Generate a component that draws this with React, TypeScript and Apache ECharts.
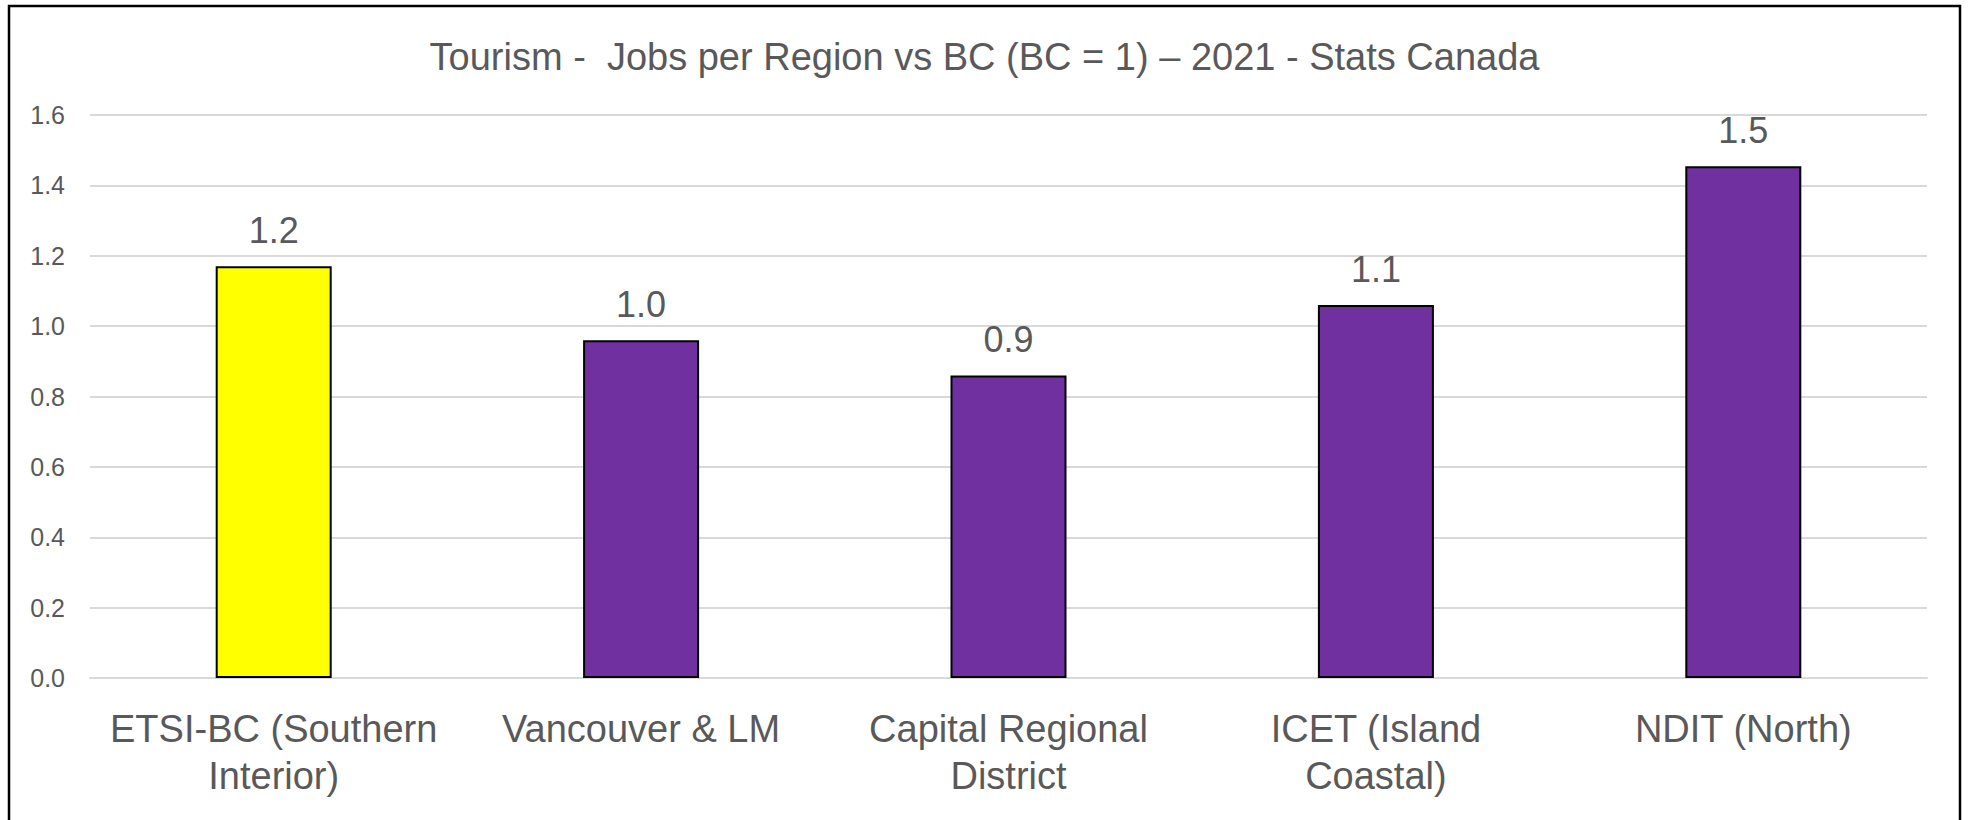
import React, { useEffect, useRef } from "react";
import * as echarts from "echarts";

const titleText = "Tourism -  Jobs per Region vs BC (BC = 1) \u2013 2021 - Stats Canada";
const categories = [
  "ETSI-BC (Southern\nInterior)",
  "Vancouver & LM",
  "Capital Regional\nDistrict",
  "ICET (Island\nCoastal)",
  "NDIT (North)",
];
const values = [1.17, 0.96, 0.86, 1.06, 1.454];
const barColors = ["#FFFF00", "#7030A0", "#7030A0", "#7030A0", "#7030A0"];
const yTicks = { min: 0, max: 1.6, interval: 0.2 };

const FONT = "'Liberation Sans', Arial, sans-serif";
const TEXT = "#595959";

export default function App() {
  const ref = useRef<HTMLDivElement>(null);
  useEffect(() => {
    if (!ref.current) return;
    const chart = echarts.init(ref.current, undefined, { renderer: "svg" });
    chart.setOption({
      animation: false,
      backgroundColor: "#ffffff",
      textStyle: { fontFamily: FONT },
      title: {
        text: titleText,
        left: "center",
        top: 33,
        textStyle: { fontFamily: FONT, fontSize: 38, fontWeight: "normal", color: TEXT },
      },
      graphic: [
        {
          type: "rect",
          shape: { x: 9, y: 6, width: 1951, height: 840 },
          style: { fill: "none", stroke: "#000000", lineWidth: 2.5 },
          silent: true,
          z: 100,
        },
      ],
      grid: { left: 90, right: 42, top: 115, bottom: 142, containLabel: false },
      xAxis: {
        type: "category",
        data: categories,
        axisLine: { show: true, lineStyle: { color: "#d9d9d9", width: 2 } },
        axisTick: { show: false },
        axisLabel: {
          interval: 0,
          margin: 27,
          color: TEXT,
          fontFamily: FONT,
          fontSize: 38,
          lineHeight: 47,
        },
      },
      yAxis: {
        type: "value",
        min: yTicks.min,
        max: yTicks.max,
        interval: yTicks.interval,
        axisLine: { show: false },
        axisTick: { show: false },
        splitLine: { lineStyle: { color: "#d9d9d9", width: 2 } },
        axisLabel: {
          margin: 25,
          color: TEXT,
          fontFamily: FONT,
          fontSize: 25,
          formatter: (v: number) => v.toFixed(1),
        },
      },
      series: [
        {
          type: "bar",
          barWidth: 116,
          data: values.map((v, i) => ({
            value: v,
            itemStyle: { color: barColors[i], borderColor: "#000000", borderWidth: 2 },
          })),
          label: {
            show: true,
            position: "top",
            distance: 18,
            color: TEXT,
            fontFamily: FONT,
            fontSize: 36,
            formatter: (p: any) => Number(p.value).toFixed(1),
          },
        },
      ],
    });
    return () => chart.dispose();
  }, []);
  return (
    <div
      ref={ref}
      style={{ position: "fixed", left: 0, top: 0, width: 1969, height: 820, background: "#fff" }}
    />
  );
}
